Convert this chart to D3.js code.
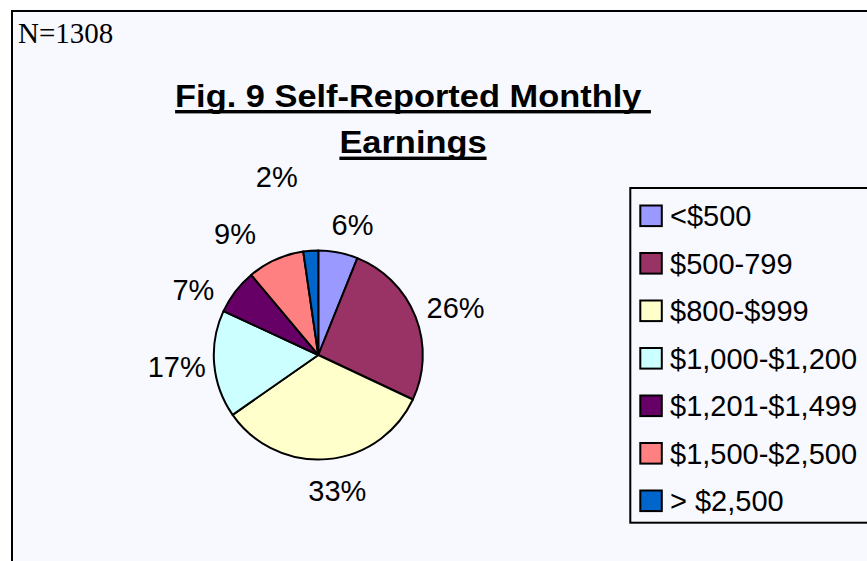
<!DOCTYPE html>
<html>
<head>
<meta charset="utf-8">
<script src="https://cdn.jsdelivr.net/npm/d3@7/dist/d3.min.js"></script>
<style>
  html, body { margin: 0; padding: 0; background: #ffffff; }
  svg { display: block; }
</style>
</head>
<body>
<script>
// ---- data ----
const categories = ["<$500", "$500-799", "$800-$999", "$1,000-$1,200", "$1,201-$1,499", "$1,500-$2,500", "> $2,500"];
const percents = [6.1, 25.9, 33.3, 16.6, 7.0, 8.8, 2.3];
const colors = ["#9999FF", "#993366", "#FFFFCC", "#CCFFFF", "#660066", "#FF8080", "#0066CC"];
const titleLines = ["Fig. 9 Self-Reported Monthly ", "Earnings"];
const noteText = "N=1308";

// label placement tweaks (Excel-like collision avoidance), degrees / pixels
const labelAngleNudge = [2.8, 0, -2.2, -0.4, -8.1, -8.5, -8.3];
const labelRadiusNudge = [4.4, 0, 7.2, -5.3, 3.9, 15, 53.1];

const W = 867, H = 561;
const svg = d3.select("body").append("svg").attr("width", W).attr("height", H);

// outer frame
svg.append("rect")
  .attr("x", 12).attr("y", 11).attr("width", 900).attr("height", 600)
  .attr("fill", "#F8F8FF").attr("stroke", "#000").attr("stroke-width", 2);

// N=1308
svg.append("text")
  .attr("x", 18).attr("y", 42.7)
  .attr("font-family", "'Liberation Serif', 'Times New Roman', serif")
  .attr("font-size", 29).attr("fill", "#000")
  .text(noteText);

// title
const titleBaselines = [106.7, 153.3];
titleLines.forEach((t, i) => {
  const g = svg.append("g")
    .attr("transform", `translate(413,${titleBaselines[i]}) scale(1.11,1)`);
  const txt = g.append("text")
    .attr("text-anchor", "middle")
    .attr("font-family", "'Liberation Sans', Arial, sans-serif")
    .attr("font-weight", "bold")
    .attr("font-size", 31)
    .attr("fill", "#000")
    .style("white-space", "pre")
    .text(t);
  const bb = txt.node().getBBox();
  g.append("rect")
    .attr("x", bb.x).attr("width", bb.width)
    .attr("y", 3.3).attr("height", 3.4)
    .attr("fill", "#000");
});

// pie
const cx = 318.3, cy = 355, r = 104.5;
const pie = d3.pie().sort(null).value(d => d)(percents);
const arc = d3.arc().innerRadius(0).outerRadius(r);
const pg = svg.append("g").attr("transform", `translate(${cx},${cy})`);
pg.selectAll("path").data(pie).enter().append("path")
  .attr("d", arc)
  .attr("fill", (d, i) => colors[i])
  .attr("stroke", "#000").attr("stroke-width", 2)
  .attr("stroke-linejoin", "round");

// percentage labels
const fmt = v => Math.round(v) + "%";
const labelBase = r + 14;
pie.forEach((d, i) => {
  const t = pg.append("text")
    .attr("text-anchor", "middle")
    .attr("font-family", "'Liberation Sans', Arial, sans-serif")
    .attr("font-size", 29).attr("fill", "#000")
    .attr("dy", "0.36em")
    .text(fmt(percents[i]));
  const w = t.node().getComputedTextLength();
  const mid = (d.startAngle + d.endAngle) / 2 + labelAngleNudge[i] * Math.PI / 180;
  const R = labelBase + labelRadiusNudge[i];
  const ax = R * Math.sin(mid), ay = -R * Math.cos(mid);
  const x = ax + (w / 2) * Math.sin(mid);
  const y = ay - 11 * Math.cos(mid);
  t.attr("x", x).attr("y", y);
});

// legend
const lx = 630.3, ly = 188;
svg.append("rect")
  .attr("x", lx).attr("y", ly).attr("width", 300).attr("height", 522.7 - ly)
  .attr("fill", "#F8F8FF").attr("stroke", "#000").attr("stroke-width", 2);
const legendY = d3.scalePoint().domain(categories).range([215.8, 500.8]);
const lg = svg.append("g");
categories.forEach((c, i) => {
  const yc = legendY(c);
  lg.append("rect")
    .attr("x", 640.3).attr("y", yc - 10.3).attr("width", 21.5).attr("height", 20.6)
    .attr("fill", colors[i]).attr("stroke", "#000").attr("stroke-width", 2);
  lg.append("text")
    .attr("x", 670).attr("y", yc).attr("dy", "0.36em")
    .attr("font-family", "'Liberation Sans', Arial, sans-serif")
    .attr("font-size", 29).attr("fill", "#000")
    .text(c);
});
</script>
</body>
</html>
